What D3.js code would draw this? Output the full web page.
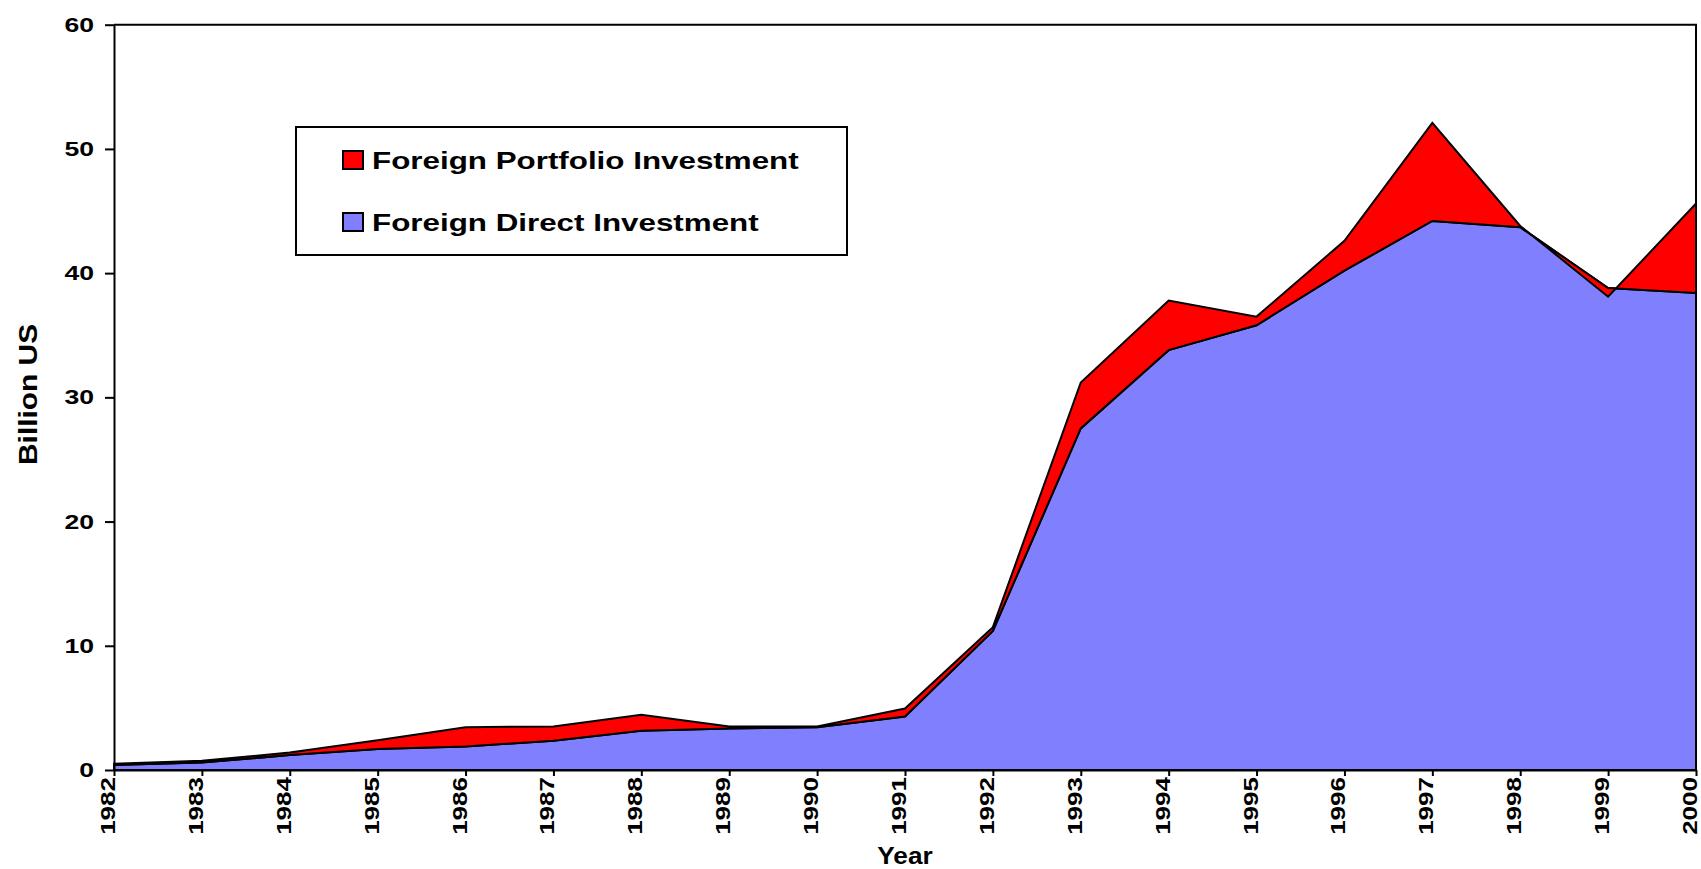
<!DOCTYPE html>
<html>
<head>
<meta charset="utf-8">
<script src="https://cdn.jsdelivr.net/npm/d3@7"></script>
<style>
  body { margin: 0; background: #fff; }
  text { font-family: "Liberation Sans", Arial, sans-serif; font-weight: bold; fill: #000; }
</style>
</head>
<body>
<svg id="chart" width="1701" height="869"></svg>
<script>
// data, billion US$
var years = [1982, 1983, 1984, 1985, 1986, 1987, 1988, 1989, 1990, 1991,
             1992, 1993, 1994, 1995, 1996, 1997, 1998, 1999, 2000];
var fdi = [0.4, 0.6, 1.2, 1.7, 1.9, 2.35, 3.15, 3.35, 3.45, 4.3,
           11.2, 27.5, 33.8, 35.8, 40.2, 44.2, 43.7, 38.8, 38.4];
var fpi = [0.1, 0.15, 0.2, 0.7, 1.55, 1.15, 1.3, 0.15, 0.05, 0.65,
           0.3, 3.7, 4.0, 0.7, 2.4, 7.9, 0.1, -0.7, 7.2];
var yTicks = [0, 10, 20, 30, 40, 50, 60];
var legendNames = ["Foreign Portfolio Investment", "Foreign Direct Investment"];
var colors = ["#ff0000", "#8080ff"];

var svg = d3.select("#chart");

var x = d3.scaleLinear().domain([1982, 2000]).range([114, 1696]);
var y = d3.scaleLinear().domain([0, 60]).range([770, 24.7]);

// stretched text, like the original export
function label(g, txt, tx, ty, rot, size, sx, anchor) {
  var h = g.append("g").attr("transform", "translate(" + tx + "," + ty + ") rotate(" + rot + ")");
  h.append("text")
    .attr("transform", "scale(" + sx + ",1)")
    .attr("text-anchor", anchor)
    .style("font-size", size + "px")
    .text(txt);
  return h;
}

var rows = years.map(function(yr, i) {
  return { year: yr, fdi: fdi[i], total: fdi[i] + fpi[i] };
});

var fdiArea = d3.area()
  .x(function(d) { return x(d.year); })
  .y0(y(0))
  .y1(function(d) { return y(d.fdi); });

var fpiArea = d3.area()
  .x(function(d) { return x(d.year); })
  .y0(function(d) { return y(d.fdi); })
  .y1(function(d) { return y(d.total); });

svg.append("path")
  .datum(rows)
  .attr("d", fdiArea)
  .attr("fill", colors[1])
  .attr("stroke", "#000")
  .attr("stroke-width", 2);

svg.append("path")
  .datum(rows)
  .attr("d", fpiArea)
  .attr("fill", colors[0])
  .attr("stroke", "#000")
  .attr("stroke-width", 2);

// plot frame: top and right
svg.append("path")
  .attr("d", "M" + x(1982) + "," + y(60) + "H" + x(2000) + "V" + y(0))
  .attr("fill", "none")
  .attr("stroke", "#000")
  .attr("stroke-width", 2);

// axes
var yAxis = svg.append("g")
  .attr("transform", "translate(" + x(1982) + ",0)")
  .call(d3.axisLeft(y).tickValues(yTicks).tickSize(9).tickSizeOuter(0).tickFormat(""));
var xAxis = svg.append("g")
  .attr("transform", "translate(0," + y(0) + ")")
  .call(d3.axisBottom(x).tickValues(years).tickSize(6).tickSizeOuter(0).tickFormat(""));
svg.selectAll(".domain, .tick line").attr("stroke", "#000").attr("stroke-width", 2);

yTicks.forEach(function(t) {
  label(svg, t, 94, y(t) + 7, 0, 20, 1.33, "end");
});
years.forEach(function(yr) {
  label(svg, yr, x(yr) + 1, 777, -90, 20, 1.3, "end");
});

label(svg, "Billion US", 37, 465, -90, 26, 1.15, "start");
label(svg, "Year", 905, 864, 0, 23, 1.14, "middle");

// legend
var lg = svg.append("g");
lg.append("rect")
  .attr("x", 296).attr("y", 127).attr("width", 551).attr("height", 128)
  .attr("fill", "#fff").attr("stroke", "#000").attr("stroke-width", 2);
legendNames.forEach(function(name, i) {
  var base = 169 + i * 62;
  lg.append("rect")
    .attr("x", 343).attr("y", base - 18).attr("width", 20).attr("height", 18)
    .attr("fill", colors[i]).attr("stroke", "#000").attr("stroke-width", 2);
  label(lg, name, 372, base, 0, 24.5, 1.28, "start");
});
</script>
</body>
</html>
